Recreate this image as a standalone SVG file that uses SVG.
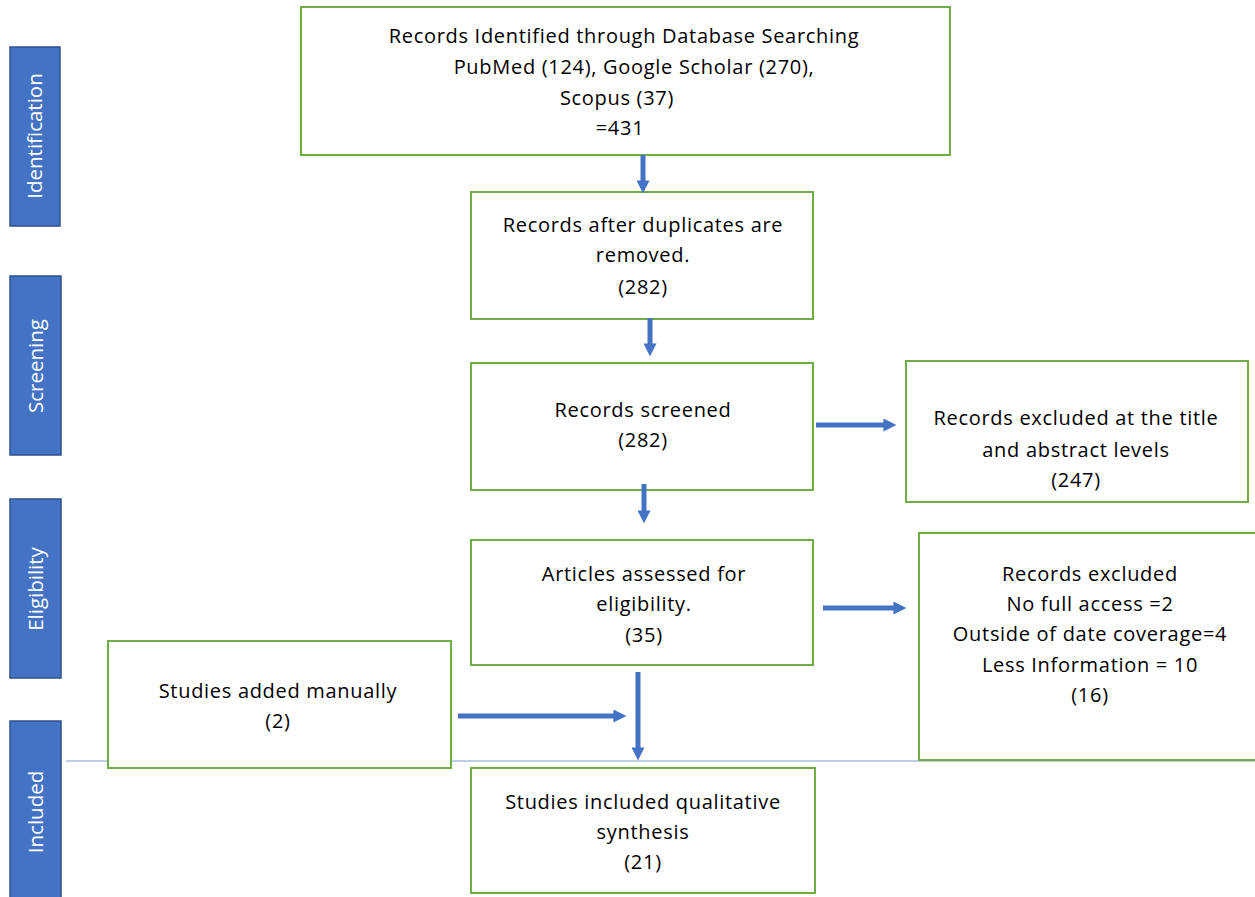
<svg xmlns="http://www.w3.org/2000/svg" width="1255" height="897" viewBox="0 0 1255 897">
<defs>
<style>
.bar{fill:#4472C4;stroke:#2F528F;stroke-width:1.5}
.bt{fill:#fff;font-family:"Open Sans","Liberation Sans",sans-serif;font-size:20.5px;text-anchor:middle}
.box{fill:#fff;stroke:#70AD47;stroke-width:2}
.t{fill:#000;font-family:"Open Sans","Liberation Sans",sans-serif;font-size:20px;letter-spacing:0.7px;text-anchor:middle}
.ar{stroke:#4472C4;stroke-width:5;fill:none;marker-end:url(#ah)}
</style>
<marker id="ah" viewBox="0 0 10 10" refX="2" refY="5" markerWidth="2.6" markerHeight="2.6" orient="auto" markerUnits="strokeWidth">
<path d="M0,0 L10,5 L0,10 z" fill="#4472C4"/>
</marker>
</defs>
<rect width="1255" height="897" fill="#fff"/>
<g id="stages">
<g id="stage-identification"><rect class="bar" x="10" y="47" width="50" height="179"/><text class="bt" transform="translate(42,136) rotate(-90)">Identification</text></g>
<g id="stage-screening"><rect class="bar" x="10" y="276" width="51" height="179"/><text class="bt" transform="translate(43,366) rotate(-90)">Screening</text></g>
<g id="stage-eligibility"><rect class="bar" x="10" y="499" width="51" height="179"/><text class="bt" transform="translate(43,589) rotate(-90)">Eligibility</text></g>
<g id="stage-included"><rect class="bar" x="10" y="721" width="51" height="180"/><text class="bt" transform="translate(43,812) rotate(-90)">Included</text></g>
</g>
<line id="divider" x1="66" y1="761" x2="1255" y2="761" stroke="#A9BDE0" stroke-width="1.5"/>
<g id="n1"><rect class="box" x="301" y="7" width="649" height="148"/>
<text class="t" x="624" y="43">Records Identified through Database Searching</text>
<text class="t" x="634" y="74">PubMed (124), Google Scholar (270),</text>
<text class="t" x="617" y="105">Scopus (37)</text>
<text class="t" x="620" y="135">=431</text></g>
<g id="n2"><rect class="box" x="471" y="192" width="342" height="127"/>
<text class="t" x="643" y="232">Records after duplicates are</text>
<text class="t" x="643" y="262">removed.</text>
<text class="t" x="643" y="294">(282)</text></g>
<g id="n3"><rect class="box" x="471" y="363" width="342" height="127"/>
<text class="t" x="643" y="417">Records screened</text>
<text class="t" x="643" y="447">(282)</text></g>
<g id="n4"><rect class="box" x="906" y="361" width="342" height="141"/>
<text class="t" x="1076" y="425">Records excluded at the title</text>
<text class="t" x="1076" y="457">and abstract levels</text>
<text class="t" x="1076" y="487">(247)</text></g>
<g id="n5"><rect class="box" x="471" y="540" width="342" height="125"/>
<text class="t" x="644" y="581">Articles assessed for</text>
<text class="t" x="644" y="611">eligibility.</text>
<text class="t" x="644" y="642">(35)</text></g>
<g id="n6"><rect class="box" x="919" y="533" width="340" height="227"/>
<text class="t" x="1090" y="581">Records excluded</text>
<text class="t" x="1090" y="611">No full access =2</text>
<text class="t" x="1090" y="641">Outside of date coverage=4</text>
<text class="t" x="1090" y="672">Less Information = 10</text>
<text class="t" x="1090" y="702">(16)</text></g>
<g id="n7"><rect class="box" x="108" y="641" width="343" height="127"/>
<text class="t" x="278" y="698">Studies added manually</text>
<text class="t" x="278" y="728">(2)</text></g>
<g id="n8"><rect class="box" x="471" y="768" width="344" height="125"/>
<text class="t" x="643" y="809">Studies included qualitative</text>
<text class="t" x="643" y="839">synthesis</text>
<text class="t" x="643" y="869">(21)</text></g>
<g id="connectors">
<line class="ar" x1="643" y1="155" x2="643" y2="183"/>
<line class="ar" x1="650" y1="318" x2="650" y2="346"/>
<line class="ar" x1="644" y1="484" x2="644" y2="513"/>
<line class="ar" x1="816" y1="425" x2="886" y2="425"/>
<line class="ar" x1="823" y1="608" x2="896" y2="608"/>
<line class="ar" x1="458" y1="716" x2="616" y2="716"/>
<line class="ar" x1="638" y1="672" x2="638" y2="750"/>
</g>
</svg>
